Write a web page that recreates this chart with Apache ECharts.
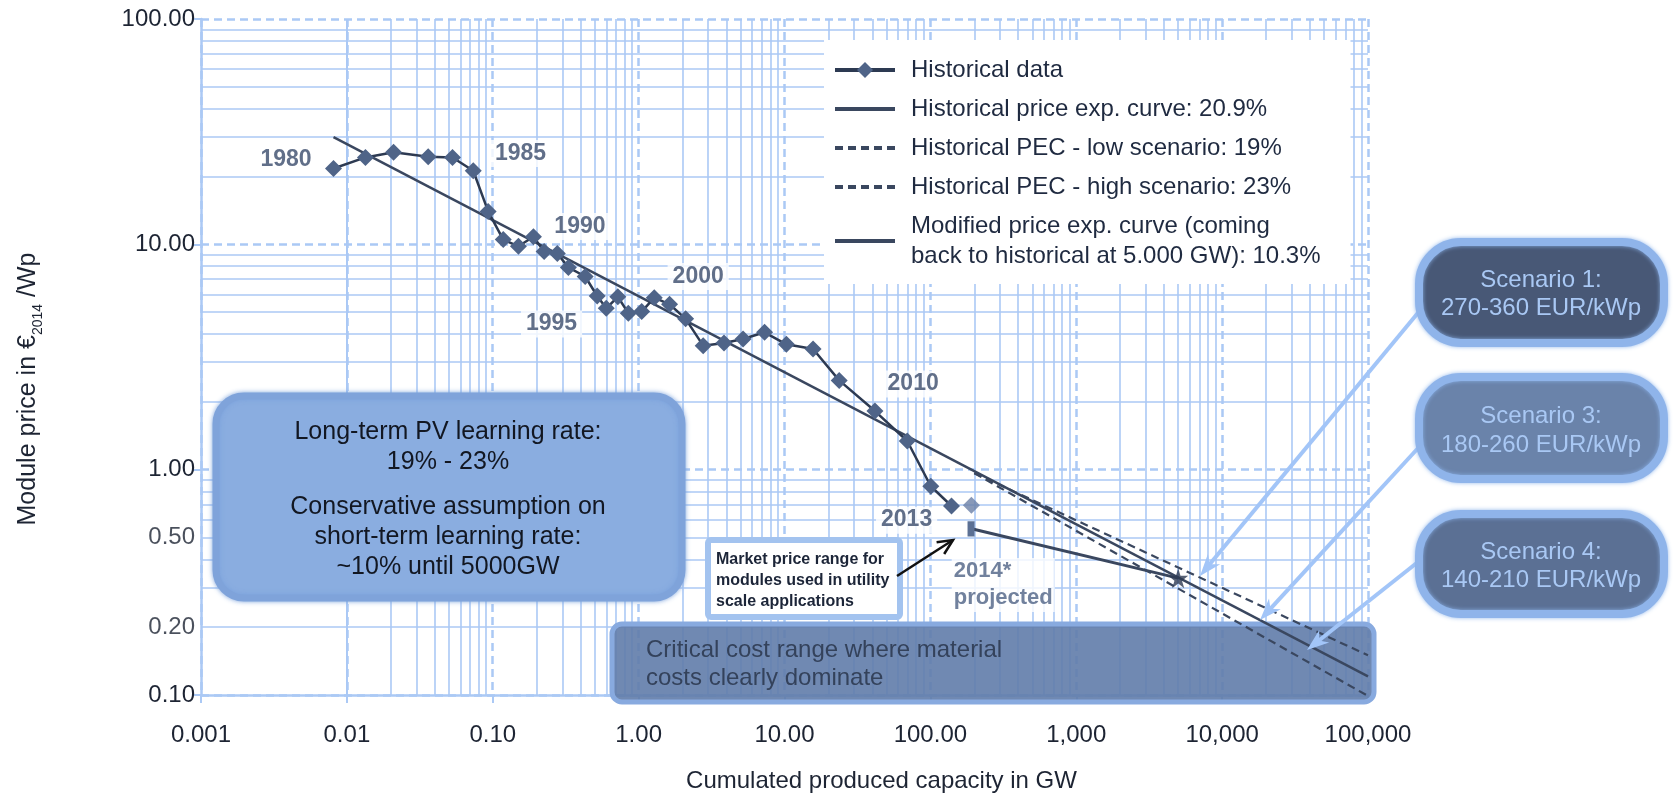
<!DOCTYPE html>
<html><head><meta charset="utf-8">
<script src="https://cdn.jsdelivr.net/npm/echarts@6/dist/echarts.min.js"></script>
<style>html,body{margin:0;padding:0;background:#fff}#c{width:1675px;height:798px}</style>
</head><body><div id="c"></div>
<script>
// ---------- data ----------
const histX = [0.0081, 0.0134, 0.0209, 0.0361, 0.053, 0.0735, 0.093, 0.118, 0.150, 0.190, 0.225, 0.277, 0.33, 0.43, 0.52, 0.60, 0.72, 0.85, 1.05, 1.28, 1.63, 2.1, 2.77, 3.85, 5.2, 7.3, 10.3, 15.7, 23.7, 41.7, 69.4, 100.7, 139.6];
const histY = [21.7, 24.3, 25.6, 24.5, 24.3, 21.2, 14.0, 10.5, 9.8, 10.8, 9.3, 9.1, 7.9, 7.2, 5.9, 5.2, 5.85, 4.95, 5.03, 5.8, 5.42, 4.67, 3.55, 3.65, 3.8, 4.07, 3.6, 3.43, 2.49, 1.82, 1.34, 0.844, 0.69];
const fitX = [0.0081, 100000];
const fitY = [29.9, 0.121];
const lowX = [200, 100000];
const lowY = [0.965, 0.15];
const highX = [200, 100000];
const highY = [0.965, 0.099];
const modX = [195, 5000];
const modY = [0.545, 0.33];
const starX = [5000];
const starY = [0.33];
const range2014X = [190, 190];
const range2014Y = [0.505, 0.59];
const point2014X = [191];
const point2014Y = [0.695];
const yearLabels = ['1980', '1985', '1990', '1995', '2000', '2010', '2013'];
const yearLabelX = [0.00383, 0.155, 0.396, 0.253, 2.56, 76.2, 68.7];
const yearLabelY = [23.8, 25.3, 12.0, 4.43, 7.2, 2.40, 0.597];
const projLabelX = [140];
const projLabelY = [0.308];
const xTickLabels = ['0.001', '0.01', '0.10', '1.00', '10.00', '100.00', '1,000', '10,000', '100,000'];
const yMainTickValues = [0.1, 1, 10, 100];
const yMainTickLabels = ['0.10', '1.00', '10.00', '100.00'];
const yExtraTickValues = [0.2, 0.5];
const yExtraTickLabels = ['0.20', '0.50'];

const S_HIST = 'Historical data';
const S_FIT = 'Historical price exp. curve: 20.9%';
const S_LOW = 'Historical PEC - low scenario: 19%';
const S_HIGH = 'Historical PEC - high scenario: 23%';
const S_MOD = 'Modified price exp. curve (coming back to historical at 5.000 GW): 10.3%';

// ---------- styling ----------
const F = '"Liberation Sans", Arial, sans-serif';
const GRID_C = '#abc9f5';
const DARK = '#2d3a52';
const LINE_C = '#3a475f';

const pair = (xs, ys) => xs.map((x, i) => [x, ys[i]]);

// minor gridline positions (axis structure, 2..9 x each decade)
const xMinor = [], yMinor = [];
for (let e = -3; e < 5; e++) for (let m = 2; m <= 9; m++) xMinor.push(+(m * Math.pow(10, e)).toPrecision(3));
for (let e = -1; e < 2; e++) for (let m = 2; m <= 9; m++) yMinor.push(+(m * Math.pow(10, e)).toPrecision(3));

function arrowEls(x1, y1, x2, y2, color, w, hl, hw, filled, z) {
  const dx = x2 - x1, dy = y2 - y1, L = Math.hypot(dx, dy), ux = dx / L, uy = dy / L, px = -uy, py = ux;
  const bx = x2 - ux * hl, by = y2 - uy * hl;
  const els = [];
  if (filled) {
    els.push({type: 'line', z, silent: true, shape: {x1, y1, x2: x2 - ux * hl * 0.6, y2: y2 - uy * hl * 0.6}, style: {stroke: color, lineWidth: w}});
    els.push({type: 'polygon', z, silent: true, shape: {points: [[x2, y2], [bx + px * hw, by + py * hw], [x2 - ux * hl * 0.7, y2 - uy * hl * 0.7], [bx - px * hw, by - py * hw]]}, style: {fill: color}});
  } else {
    els.push({type: 'line', z, silent: true, shape: {x1, y1, x2, y2}, style: {stroke: color, lineWidth: w}});
    els.push({type: 'polyline', z, silent: true, shape: {points: [[bx + px * hw, by + py * hw], [x2, y2], [bx - px * hw, by - py * hw]]}, style: {stroke: color, lineWidth: w, fill: null}});
  }
  return els;
}
function txt(x, y, text, size, color, align, weight, z) {
  return {type: 'text', z: z || 6, silent: true, x, y, style: {text, fill: color, font: (weight || 'normal') + ' ' + size + 'px ' + F, textAlign: align || 'center', textVerticalAlign: 'middle'}};
}
function scenarioBox(y, h, fill, l1, l2, t1, t2) {
  return [
    {type: 'rect', z: 5, silent: true, shape: {x: 1419, y, width: 245, height: h, r: 42}, style: {fill, stroke: '#8fb4ea', lineWidth: 8, shadowBlur: 4, shadowColor: 'rgba(140,180,235,0.9)'}},
    txt(1541, t1, l1, 24, '#a9c8f4'),
    txt(1541, t2, l2, 24, '#a9c8f4')
  ];
}

const graphics = [].concat(
  // long-term learning rate box
  [{type: 'rect', z: 1, silent: true, shape: {x: 216, y: 396, width: 466, height: 202, r: 28}, style: {fill: '#8aade0', stroke: '#7fa3da', lineWidth: 7, shadowBlur: 5, shadowColor: 'rgba(120,160,220,0.9)'}},
   txt(448, 432, 'Long-term PV learning rate:', 25, '#121722', 'center', 'normal', 2),
   txt(448, 462, '19% - 23%', 25, '#121722', 'center', 'normal', 2),
   txt(448, 507, 'Conservative assumption on', 25, '#121722', 'center', 'normal', 2),
   txt(448, 537, 'short-term learning rate:', 25, '#121722', 'center', 'normal', 2),
   txt(448, 567, '~10% until 5000GW', 25, '#121722', 'center', 'normal', 2)],
  // critical cost band
  [{type: 'rect', z: 1, silent: true, shape: {x: 612, y: 624, width: 762, height: 78, r: 10}, style: {fill: 'rgba(96,124,170,0.9)', stroke: '#88aadf', lineWidth: 5}},
   txt(646, 650, 'Critical cost range where material', 24, '#34425b', 'left', 'normal', 2),
   txt(646, 678, 'costs clearly dominate', 24, '#34425b', 'left', 'normal', 2)],
  // market price box
  [{type: 'rect', z: 1, silent: true, shape: {x: 708, y: 540, width: 192, height: 77, r: 3}, style: {fill: '#fff', stroke: '#a3c3ef', lineWidth: 6}},
   txt(716, 560, 'Market price range for', 16, '#1c2538', 'left', 'bold', 2),
   txt(716, 581, 'modules used in utility', 16, '#1c2538', 'left', 'bold', 2),
   txt(716, 602, 'scale applications', 16, '#1c2538', 'left', 'bold', 2)],
  arrowEls(897, 576, 953, 540, '#111', 2.5, 15, 7, false, 3),
  // scenario arrows
  arrowEls(1422, 308, 1200, 576, '#a2c5f8', 4, 22, 8, true, 4),
  arrowEls(1420, 446, 1260, 620, '#a2c5f8', 4, 22, 8, true, 4),
  arrowEls(1423, 558, 1307, 650, '#a2c5f8', 4, 22, 8, true, 4),
  scenarioBox(242, 101, '#485876', 'Scenario 1:', '270-360 EUR/kWp', 280, 308),
  scenarioBox(377, 102, '#6a83aa', 'Scenario 3:', '180-260 EUR/kWp', 416, 445),
  scenarioBox(514, 100, '#5b7094', 'Scenario 4:', '140-210 EUR/kWp', 552, 580)
);

const noSym = {color: 'rgba(0,0,0,0)', borderWidth: 0, borderColor: 'rgba(0,0,0,0)'};

const option = {
  animation: false,
  backgroundColor: '#fff',
  textStyle: {fontFamily: F},
  grid: {left: 201, right: 307, top: 19, bottom: 101, containLabel: false},
  xAxis: {
    type: 'log', logBase: 10, min: 0.001, max: 100000,
    name: 'Cumulated produced capacity in GW', nameLocation: 'middle', nameGap: 74,
    nameTextStyle: {fontSize: 24, color: '#1d2433', fontFamily: F, padding: [0, 0, 0, 194]},
    axisLine: {show: true, lineStyle: {color: GRID_C, width: 2.5}},
    axisTick: {show: true, length: 8, lineStyle: {color: GRID_C, width: 2}},
    minorTick: {show: false},
    axisLabel: {fontSize: 24, color: '#1d2433', fontFamily: F, margin: 28,
      formatter: v => xTickLabels[Math.round(Math.log10(v)) + 3]},
    splitLine: {show: true, lineStyle: {color: GRID_C, width: 2.5, type: [8, 5]}}
  },
  yAxis: {
    type: 'log', logBase: 10, min: 0.1, max: 100,
    name: 'Module price in €{s|2014} /Wp', nameLocation: 'middle', nameGap: 156,
    nameTextStyle: {fontSize: 25, color: '#1d2433', fontFamily: F, padding: [0, 64, 0, 0],
      rich: {s: {fontSize: 14, color: '#1d2433', fontFamily: F, verticalAlign: 'bottom', lineHeight: 34}}},
    axisLine: {show: true, lineStyle: {color: GRID_C, width: 2.5}},
    axisTick: {show: true, length: 8, lineStyle: {color: GRID_C, width: 2}},
    axisLabel: {fontSize: 24, color: '#1d2433', fontFamily: F, margin: 6,
      formatter: v => { const i = yMainTickValues.findIndex(t => Math.abs(t - v) / t < 1e-6); return i >= 0 ? yMainTickLabels[i] : ''; }},
    splitLine: {show: true, lineStyle: {color: GRID_C, width: 2.5, type: [8, 5]}}
  },
  legend: {
    orient: 'vertical', left: 824, top: 40, z: 4,
    padding: [15, 30, 13, 9], backgroundColor: '#fff',
    itemWidth: 60, itemHeight: 20, itemGap: 9, selectedMode: false,
    lineStyle: {width: 4},
    textStyle: {fontSize: 24, lineHeight: 30, color: '#1f2a40', fontFamily: F, padding: [0, 0, 0, 11]},
    formatter: n => n === S_MOD ? 'Modified price exp. curve (coming\nback to historical at 5.000 GW): 10.3%' : n,
    data: [
      {name: S_HIST},
      {name: S_FIT, itemStyle: noSym},
      {name: S_LOW, itemStyle: noSym},
      {name: S_HIGH, itemStyle: noSym},
      {name: S_MOD, itemStyle: noSym}
    ]
  },
  graphic: graphics,
  series: [
    {
      name: 'gridMinor', type: 'line', z: 0, silent: true, symbol: 'none',
      data: [[1, 1]], lineStyle: {opacity: 0},
      markLine: {
        silent: true, symbol: 'none', z: 0, animation: false,
        label: {show: false},
        lineStyle: {color: GRID_C, width: 1.6, type: 'solid'},
        emphasis: {disabled: true},
        data: xMinor.map(v => ({xAxis: v})).concat(yMinor.map(v => ({yAxis: v})))
      }
    },
    {
      name: S_FIT, type: 'line', z: 2, symbol: 'none', color: LINE_C,
      lineStyle: {color: LINE_C, width: 2.5}, data: pair(fitX, fitY)
    },
    {
      name: S_LOW, type: 'line', z: 2, symbol: 'none', color: LINE_C,
      lineStyle: {color: LINE_C, width: 2.2, type: [8, 5]}, data: pair(lowX, lowY)
    },
    {
      name: S_HIGH, type: 'line', z: 2, symbol: 'none', color: LINE_C,
      lineStyle: {color: LINE_C, width: 2.2, type: [8, 5]}, data: pair(highX, highY)
    },
    {
      name: S_MOD, type: 'line', z: 2, symbol: 'none', color: LINE_C,
      lineStyle: {color: LINE_C, width: 3}, data: pair(modX, modY)
    },
    {
      name: S_HIST, type: 'line', z: 3, symbol: 'diamond', symbolSize: 17, color: '#4f6488',
      itemStyle: {color: '#4f6488'}, lineStyle: {color: DARK, width: 2.5},
      data: pair(histX, histY)
    },
    {
      name: 'Range 2014', type: 'line', z: 3, symbol: 'none',
      lineStyle: {color: '#5b7094', width: 7, cap: 'butt'}, data: pair(range2014X, range2014Y)
    },
    {
      name: '2014', type: 'scatter', z: 3, symbol: 'diamond', symbolSize: 17,
      itemStyle: {color: '#6a80a6'}, data: pair(point2014X, point2014Y)
    },
    {
      name: '5000 GW', type: 'scatter', z: 4,
      symbol: 'path://M50,0 L61,35 L98,35 L68,57 L79,91 L50,70 L21,91 L32,57 L2,35 L39,35 Z',
      symbolSize: 20, itemStyle: {color: DARK}, data: pair(starX, starY)
    },
    {
      name: 'Year labels', type: 'scatter', z: 5, symbolSize: 0, silent: true,
      data: pair(yearLabelX, yearLabelY),
      label: {show: true, position: 'inside', formatter: p => yearLabels[p.dataIndex],
        fontSize: 23, fontWeight: 'bold', color: '#3a4b6b', fontFamily: F,
        backgroundColor: '#fff', padding: [2, 5]}
    },
    {
      name: 'Projected label', type: 'scatter', z: 5, symbolSize: 0, silent: true,
      data: pair(projLabelX, projLabelY),
      label: {show: true, position: 'right', distance: 0, formatter: '2014*\nprojected', align: 'left',
        fontSize: 22, lineHeight: 27, fontWeight: 'bold', color: '#4d6184', fontFamily: F,
        backgroundColor: '#fff', padding: [0, 2]}
    },
    {
      name: 'Y extra labels', type: 'scatter', z: 5, symbolSize: 0, silent: true, clip: false,
      data: yExtraTickValues.map(v => [0.001, v]),
      label: {show: true, position: 'left', distance: 6, formatter: p => yExtraTickLabels[p.dataIndex],
        fontSize: 24, color: '#1d2433', fontFamily: F}
    }
  ]
};

const chart = echarts.init(document.getElementById('c'));
chart.setOption(option);
</script>
</body></html>
